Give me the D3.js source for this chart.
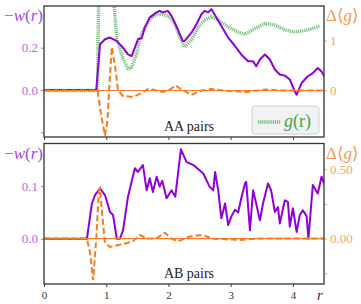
<!DOCTYPE html>
<html>
<head>
<meta charset="utf-8">
<script src="https://cdn.jsdelivr.net/npm/d3@7"></script>
<style>
  body { margin: 0; background: #fff; }
  svg { display: block; }
  svg text { font-family: "Liberation Serif", "DejaVu Serif", serif !important; }
</style>
</head>
<body>
<div id="viz_container"></div>
<script>
// ---- data ----
// top panel (AA pairs)
const rW_AA = [0, 0.84, 0.9, 0.98, 1.06, 1.17, 1.27, 1.35, 1.41, 1.46, 1.51, 1.57, 1.62, 1.70, 1.81, 1.86, 1.91, 1.99, 2.05, 2.15, 2.23, 2.26, 2.37, 2.45, 2.53, 2.58, 2.64, 2.69, 2.74, 2.85, 2.96, 3.07, 3.17, 3.28, 3.36, 3.41, 3.47, 3.55, 3.63, 3.71, 3.79, 3.87, 3.95, 4.03, 4.06, 4.14, 4.24, 4.32, 4.40, 4.46, 4.51];
const w_AA = [0, 0, 0.216, 0.24, 0.248, 0.231, 0.2, 0.168, 0.16, 0.2, 0.24, 0.245, 0.295, 0.343, 0.367, 0.374, 0.367, 0.374, 0.35, 0.287, 0.231, 0.232, 0.271, 0.311, 0.358, 0.374, 0.367, 0.382, 0.358, 0.303, 0.248, 0.208, 0.168, 0.136, 0.136, 0.112, 0.144, 0.168, 0.144, 0.097, 0.073, 0.068, 0.05, -0.007, -0.022, 0.033, 0.065, 0.08, 0.104, 0.088, 0.063];

const rG_AA = [0, 0.86, 0.88, 0.92, 1.0, 1.08, 1.12, 1.17, 1.27, 1.35, 1.40, 1.49, 1.54, 1.62, 1.73, 1.86, 1.94, 2.02, 2.10, 2.18, 2.26, 2.37, 2.48, 2.58, 2.69, 2.80, 2.96, 3.12, 3.23, 3.39, 3.55, 3.71, 3.87, 4.03, 4.24, 4.43];
const g_AA = [0, 0, 2.0, 4.0, 5.0, 4.0, 1.8, 1.04, 0.64, 0.44, 0.44, 0.74, 1.04, 1.27, 1.47, 1.54, 1.51, 1.47, 1.34, 1.07, 0.87, 1.01, 1.27, 1.41, 1.47, 1.41, 1.27, 1.17, 1.12, 1.24, 1.34, 1.31, 1.21, 1.17, 1.21, 1.29];

const rD_AA = [0, 0.86, 0.92, 0.98, 1.02, 1.06, 1.09, 1.14, 1.19, 1.27, 1.43, 1.60, 1.68, 1.80, 1.91, 2.02, 2.12, 2.18, 2.29, 2.37, 2.53, 2.69, 2.87, 3.25, 3.57, 3.79, 4.5];
const d_AA = [0, 0, -0.5, -0.9, -0.6, 0.3, 0.87, 0.5, 0.0, -0.11, -0.13, -0.03, 0.04, 0.0, -0.03, 0.02, 0.1, 0.04, -0.03, -0.09, 0.0, 0.03, 0.0, -0.03, 0.02, 0.0, 0.0];

// bottom panel (AB pairs)
const rW_AB = [0, 0.69, 0.77, 0.82, 0.90, 0.98, 1.06, 1.11, 1.17, 1.22, 1.27, 1.35, 1.46, 1.51, 1.59, 1.65, 1.70, 1.75, 1.81, 1.86, 1.90, 1.97, 2.05, 2.11, 2.20, 2.29, 2.40, 2.50, 2.56, 2.66, 2.72, 2.75, 2.80, 2.85, 2.91, 2.96, 3.01, 3.07, 3.12, 3.17, 3.23, 3.25, 3.31, 3.36, 3.41, 3.47, 3.52, 3.60, 3.65, 3.71, 3.76, 3.79, 3.87, 3.92, 3.95, 4.00, 4.06, 4.11, 4.16, 4.22, 4.25, 4.32, 4.40, 4.46, 4.50];
const w_AB = [0, 0, 0.067, 0.083, 0.096, 0.083, 0.051, 0.045, 0.0, 0.0, 0.016, 0.08, 0.134, 0.127, 0.14, 0.092, 0.115, 0.089, 0.118, 0.099, 0.11, 0.077, 0.092, 0.08, 0.17, 0.146, 0.14, 0.13, 0.124, 0.099, 0.092, 0.127, 0.092, 0.039, 0.067, 0.026, 0.042, 0.055, 0.05, 0.077, 0.105, 0.108, 0.016, 0.092, 0.067, 0.035, 0.067, 0.105, 0.092, 0.051, 0.06, 0.029, 0.073, 0.07, 0.023, 0.058, 0.013, 0.045, 0.054, 0.043, 0.0, 0.102, 0.086, 0.118, 0.105];

const rD_AB = [0, 0.69, 0.74, 0.79, 0.84, 0.88, 0.90, 0.94, 0.98, 1.06, 1.22, 1.43, 1.54, 1.65, 1.80, 1.94, 2.05, 2.15, 2.34, 2.55, 2.70, 3.15, 3.40, 4.5];
const d_AB = [0, 0, -0.1, -0.3, 0.0, 0.34, 0.36, 0.15, -0.03, -0.06, -0.045, -0.02, 0.027, 0.0, 0.0, 0.043, 0.0, -0.02, 0.015, 0.027, 0.0, -0.01, 0.0, 0.0];

// ticks
const xTicks = [0, 1, 2, 3, 4];
const leftTicks_AA = [-0.2, 0, 0.2];
const leftLabels_AA = ["", "0.0", "0.2"];
const rightTicks_AA = [0, 1];
const rightLabels_AA = ["0", "1"];
const leftTicks_AB = [0, 0.1];
const leftLabels_AB = ["0.0", "0.1"];
const rightTicks_AB = [-0.25, 0, 0.25, 0.5];
const rightLabels_AB = ["", "0.00", "", "0.50"];

// ---- layout ----
const W = 361, H = 304;
const left = 44, right = 324;
const purple = "#9000d6", purpleTxt = "#b46ae2";
const orange = "#f57d1f", orangeTxt = "#f4a566";
const green = "#43a447";

const svg = d3.select("#viz_container")
    .append("svg")
    .attr("width", W)
    .attr("height", H);

const x = d3.scaleLinear().domain([0, 4.5]).range([left, right]);

const panels = [
    { id: "aa", top: 6, bottom: 137, yL: [-0.222, 0.397], yR: [-0.93, 1.69],
      rW: rW_AA, w: w_AA, rD: rD_AA, d: d_AA, rG: rG_AA, g: g_AA,
      lt: leftTicks_AA, ll: leftLabels_AA, rt: rightTicks_AA, rl: rightLabels_AA,
      label: "AA pairs", xlabels: false },
    { id: "ab", top: 143.5, bottom: 284, yL: [-0.086, 0.181], yR: [-0.328, 0.687],
      rW: rW_AB, w: w_AB, rD: rD_AB, d: d_AB, rG: null, g: null,
      lt: leftTicks_AB, ll: leftLabels_AB, rt: rightTicks_AB, rl: rightLabels_AB,
      label: "AB pairs", xlabels: true }
];

panels.forEach(p => {
    const yL = d3.scaleLinear().domain(p.yL).range([p.bottom, p.top]);
    const yR = d3.scaleLinear().domain(p.yR).range([p.bottom, p.top]);

    svg.append("clipPath").attr("id", "clip-" + p.id)
        .append("rect")
        .attr("x", left).attr("y", p.top)
        .attr("width", right - left).attr("height", p.bottom - p.top);

    const g = svg.append("g").attr("clip-path", `url(#clip-${p.id})`);

    // g(r) dotted curve
    if (p.g) {
        g.append("path")
            .datum(p.rG.map((r, i) => [r, p.g[i]]))
            .attr("fill", "none")
            .attr("stroke", green)
            .attr("stroke-opacity", 0.7)
            .attr("stroke-width", 3.5)
            .attr("stroke-dasharray", "1.2,0.9")
            .attr("d", d3.line().x(d => x(d[0])).y(d => yR(d[1])));
    }

    // -w(r)
    g.append("path")
        .datum(p.rW.map((r, i) => [r, p.w[i]]))
        .attr("fill", "none")
        .attr("stroke", purple)
        .attr("stroke-width", 2)
        .attr("stroke-linejoin", "round")
        .attr("d", d3.line().x(d => x(d[0])).y(d => yL(d[1])));

    // zero line
    g.append("line")
        .attr("x1", left).attr("x2", right)
        .attr("y1", yR(0)).attr("y2", yR(0))
        .attr("stroke", orange).attr("stroke-width", 1.2);

    // delta g dashed
    g.append("path")
        .datum(p.rD.map((r, i) => [r, p.d[i]]))
        .attr("fill", "none")
        .attr("stroke", orange)
        .attr("stroke-width", 2)
        .attr("stroke-dasharray", "6,3")
        .attr("d", d3.line().x(d => x(d[0])).y(d => yR(d[1])));

    // left axis
    svg.append("g")
        .attr("transform", `translate(${left},0)`)
        .call(d3.axisLeft(yL).tickValues(p.lt).tickSize(3).tickPadding(3)
            .tickFormat((d, i) => p.ll[i]))
        .call(a => a.select(".domain").remove())
        .call(a => a.selectAll("line").attr("stroke", purpleTxt))
        .call(a => a.selectAll("text").attr("fill", purpleTxt).style("font-size", "13px"));

    // right axis
    svg.append("g")
        .attr("transform", `translate(${right},0)`)
        .call(d3.axisRight(yR).tickValues(p.rt).tickSize(3).tickPadding(3)
            .tickFormat((d, i) => p.rl[i]))
        .call(a => a.select(".domain").remove())
        .call(a => a.selectAll("line").attr("stroke", orangeTxt))
        .call(a => a.selectAll("text").attr("fill", orangeTxt).style("font-size", "13px"));

    // bottom axis
    svg.append("g")
        .attr("transform", `translate(0,${p.bottom})`)
        .call(d3.axisBottom(x).tickValues(xTicks).tickSize(3).tickPadding(4)
            .tickFormat(p.xlabels ? d3.format("d") : ""))
        .call(a => a.select(".domain").remove())
        .call(a => a.selectAll("line").attr("stroke", "#444"))
        .call(a => a.selectAll("text").attr("fill", "#333").style("font-size", "11px"));

    // frame
    svg.append("rect")
        .attr("x", left).attr("y", p.top)
        .attr("width", right - left).attr("height", p.bottom - p.top)
        .attr("fill", "none")
        .attr("stroke", "#333")
        .attr("stroke-width", 1.3);

    // panel label
    svg.append("text")
        .attr("x", 189).attr("y", p.bottom - 6)
        .attr("text-anchor", "middle")
        .attr("fill", "#222")
        .style("font-size", "14px")
        .text(p.label);

    // axis titles
    const wt = svg.append("text")
        .attr("x", left - 1).attr("y", p.top + 15)
        .attr("text-anchor", "end")
        .attr("fill", "#a448e0")
        .style("font-size", "17px");
    wt.append("tspan").text("\u2212");
    wt.append("tspan").style("font-style", "italic").text("w");
    wt.append("tspan").text("(");
    wt.append("tspan").style("font-style", "italic").text("r");
    wt.append("tspan").text(")");

    const dt = svg.append("text")
        .attr("x", right + 2).attr("y", p.top + 15)
        .attr("fill", "#f39a52")
        .style("font-size", "17px");
    dt.append("tspan").text("\u0394\u27E8");
    dt.append("tspan").style("font-style", "italic").text("g");
    dt.append("tspan").text("\u27E9");
});

// r label
svg.append("text")
    .attr("x", 320).attr("y", 300)
    .attr("text-anchor", "middle")
    .attr("fill", "#333")
    .style("font-size", "15px")
    .style("font-style", "italic")
    .text("r");

// legend
svg.append("rect")
    .attr("x", 252).attr("y", 106)
    .attr("width", 67).attr("height", 28)
    .attr("rx", 3)
    .attr("fill", "#f2f2f2")
    .attr("stroke", "#cfcfcf");
svg.append("line")
    .attr("x1", 258).attr("x2", 281)
    .attr("y1", 122).attr("y2", 122)
    .attr("stroke", green)
    .attr("stroke-opacity", 0.7)
    .attr("stroke-width", 3.5)
    .attr("stroke-dasharray", "1.2,0.9");
const lt = svg.append("text")
    .attr("x", 284).attr("y", 127)
    .attr("fill", green)
    .style("font-size", "18px");
lt.append("tspan").style("font-style", "italic").text("g");
lt.append("tspan").text("(r)");
</script>
</body>
</html>
